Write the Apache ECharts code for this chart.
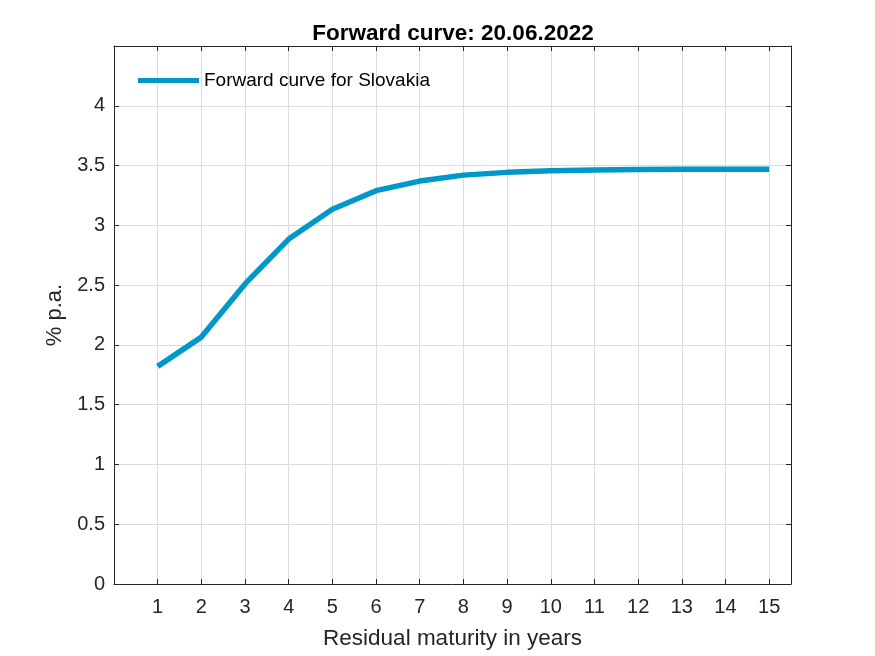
<!DOCTYPE html>
<html><head><meta charset="utf-8">
<script src="https://cdn.jsdelivr.net/npm/echarts@6/dist/echarts.min.js"></script>
<style>html,body{margin:0;padding:0;background:#fff}#c{width:875px;height:656px}</style>
</head><body><div id="c"></div>
<script>
const maturities = [1,2,3,4,5,6,7,8,9,10,11,12,13,14,15];
const forwardRates = [1.82,2.065,2.51,2.885,3.135,3.29,3.37,3.42,3.443,3.457,3.463,3.467,3.469,3.47,3.47];
const titleText = 'Forward curve: 20.06.2022';
const seriesName = 'Forward curve for Slovakia';
const xName = 'Residual maturity in years';
const yName = '% p.a.';

const font = 'Liberation Sans, Arial, Helvetica, sans-serif';
const axisCol = '#262626';
const chart = echarts.init(document.getElementById('c'), null, {renderer:'canvas'});
const baseX = {
  type:'value', min:0, max:15.5, interval:1,
  axisLine:{show:true, onZero:false, lineStyle:{color:axisCol, width:1}},
  axisTick:{show:true, inside:true, length:5, lineStyle:{color:axisCol}},
  splitLine:{show:false}
};
const baseY = {
  type:'value', min:0, max:4.5, interval:0.5,
  axisLine:{show:true, onZero:false, lineStyle:{color:axisCol, width:1}},
  axisTick:{show:true, inside:true, length:5, lineStyle:{color:axisCol}},
  splitLine:{show:false}
};
chart.setOption({
  animation:false,
  backgroundColor:'#fff',
  title:{text:titleText, left:453, top:22, padding:0, textAlign:'center',
    textStyle:{fontFamily:font, fontSize:22.5, fontWeight:'bold', color:'#000'}},
  legend:{show:true, left:138, top:71, padding:0, icon:'rect', itemWidth:61, itemHeight:5,
    data:[seriesName],
    textStyle:{fontFamily:font, fontSize:19, color:'#000'}},
  grid:{left:114, right:84, top:46, bottom:72, containLabel:false},
  xAxis:[
    Object.assign({}, baseX, {position:'bottom',
      name:xName, nameLocation:'middle', nameGap:43,
      nameTextStyle:{fontFamily:font, fontSize:22.5, color:axisCol},
      axisLabel:{show:true, margin:13, fontFamily:font, fontSize:20, color:axisCol,
        formatter:v => (v>=1 && v<=15 && Number.isInteger(v)) ? String(v) : ''},
      splitLine:{show:true, lineStyle:{color:'#dcdcdc', width:1}}}),
    Object.assign({}, baseX, {position:'top', axisLabel:{show:false}})
  ],
  yAxis:[
    Object.assign({}, baseY, {position:'left',
      name:yName, nameLocation:'middle', nameGap:48, nameRotate:90,
      nameTextStyle:{fontFamily:font, fontSize:22, color:axisCol},
      axisLabel:{show:true, margin:9, fontFamily:font, fontSize:20, color:axisCol,
        formatter:v => v>4.01 ? '' : String(v)},
      splitLine:{show:true, lineStyle:{color:'#dcdcdc', width:1}}}),
    Object.assign({}, baseY, {position:'right', axisLabel:{show:false}})
  ],
  series:[{
    name:seriesName, type:'line', xAxisIndex:0, yAxisIndex:0,
    data:maturities.map((m,i)=>[m, forwardRates[i]]),
    showSymbol:false, symbol:'none',
    lineStyle:{color:'#0098c8', width:5.5},
    itemStyle:{color:'#0098c8'}
  }]
});
</script></body></html>
